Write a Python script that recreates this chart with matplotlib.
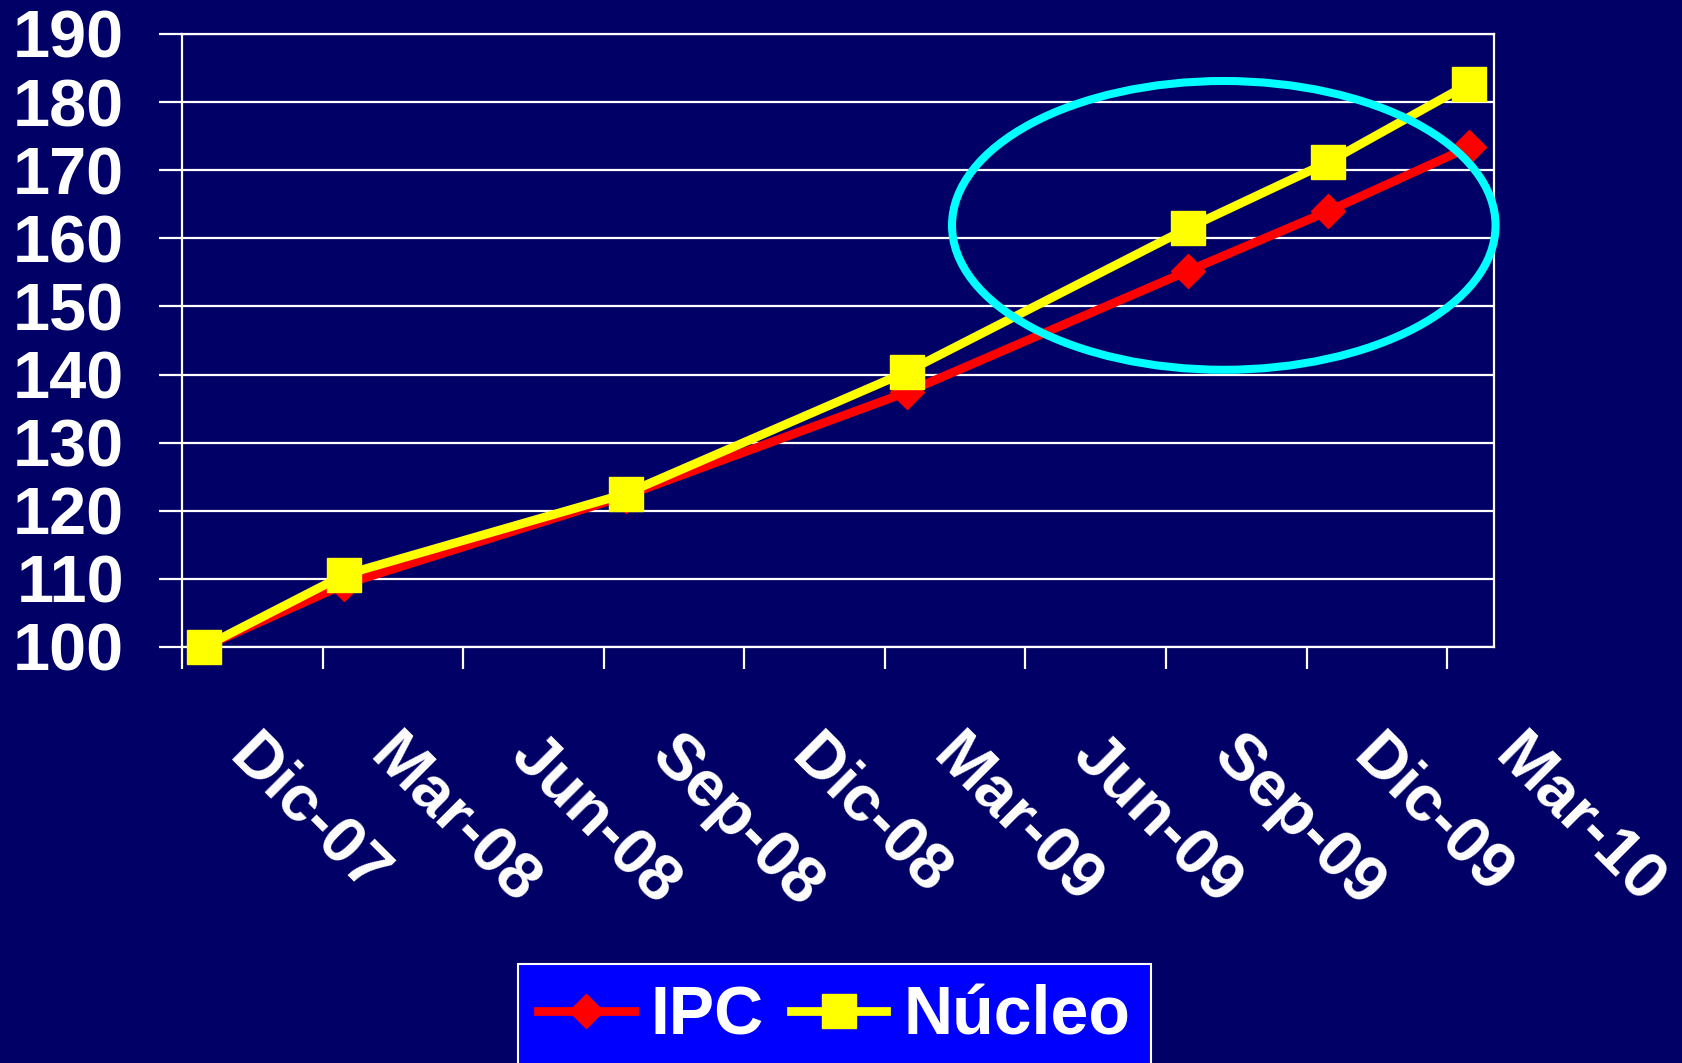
import matplotlib
matplotlib.use("Agg")
import matplotlib.pyplot as plt
import matplotlib.transforms as mtransforms
from matplotlib.patches import Ellipse
import pandas as pd

# ---- data ----
obs_dates = ["2007-12-15", "2008-03-15", "2008-09-15", "2009-03-15",
             "2009-09-15", "2009-12-15", "2010-03-15"]
ipc = [100.0, 109.2, 122.2, 137.4, 155.2, 164.0, 173.4]
nucleo = [100.0, 110.6, 122.5, 140.4, 161.5, 171.2, 182.7]
tick_labels = ["Dic-07", "Mar-08", "Jun-08", "Sep-08", "Dic-08",
               "Mar-09", "Jun-09", "Sep-09", "Dic-09", "Mar-10"]
tick_dates = pd.date_range("2007-12-01", periods=len(tick_labels), freq="3MS")
x_end_date = "2010-04-01"
y_ticks = list(range(100, 191, 10))
series_names = ["IPC", "Núcleo"]

# highlight ellipse (annotation) in data units
ell_center_date = "2009-10-08"
ell_center_y = 161.9
ell_width_months = 11.6
ell_height = 42.4

base = pd.Timestamp("2007-12-01")


def to_months(d):
    d = pd.Timestamp(d)
    return (d.year - base.year) * 12 + (d.month - base.month) + (d.day - 1) / 30.0


x_obs = [to_months(d) for d in obs_dates]
x_ticks = [to_months(d) for d in tick_dates]

BG = "#000066"
plt.rcParams["font.family"] = ["Liberation Sans", "DejaVu Sans"]
plt.rcParams["font.weight"] = "bold"

fig = plt.figure(figsize=(16.82, 10.63), dpi=100, facecolor=BG)
ax = fig.add_axes([182 / 1682, 416 / 1063, 1312 / 1682, 613 / 1063])
ax.set_facecolor(BG)

ax.set_xlim(0, to_months(x_end_date))
ax.set_ylim(100, 190)

ax.yaxis.grid(True, color="white", linewidth=1.6)
ax.set_axisbelow(True)

l1, = ax.plot(x_obs, ipc, color="#FF0000", linewidth=6.3, marker="D",
              markersize=17, markeredgecolor="#FF0000", label=series_names[0],
              clip_on=False, zorder=3)
l2, = ax.plot(x_obs, nucleo, color="#FFFF00", linewidth=6.3, marker="s",
              markersize=24, markeredgecolor="#FFFF00", label=series_names[1],
              clip_on=False, zorder=4)

ell = Ellipse((to_months(ell_center_date), ell_center_y), ell_width_months,
              ell_height, fill=False, edgecolor="#00FFFF", linewidth=5.8,
              clip_on=False, zorder=5)
ax.add_patch(ell)

for s in ax.spines.values():
    s.set_color("white")
    s.set_linewidth(1.6)

ax.set_yticks(y_ticks)
ax.set_yticklabels([str(v) for v in y_ticks])
ax.tick_params(axis="y", colors="white", length=16.6, width=1.6, pad=25,
               labelsize=48)
for lab in ax.get_yticklabels():
    lab.set_fontweight("bold")

ax.set_xticks(x_ticks)
ax.set_xticklabels(tick_labels)
ax.tick_params(axis="x", colors="white", length=15.8, width=1.6, pad=0,
               labelsize=47)
offset = mtransforms.ScaledTranslation(78 / 100, -56 / 100, fig.dpi_scale_trans)
for lab in ax.get_xticklabels():
    lab.set_rotation(-45)
    lab.set_ha("left")
    lab.set_va("top")
    lab.set_rotation_mode("anchor")
    lab.set_fontweight("bold")
    lab.set_transform(lab.get_transform() + offset)

leg = fig.legend(handles=[l1, l2], loc="upper left",
                 bbox_to_anchor=(518 / 1682, 1 - 964 / 1063), ncol=2,
                 frameon=True, fancybox=False, fontsize=49,
                 handlelength=1.4, handletextpad=0.25, columnspacing=0.4,
                 borderpad=0.3, borderaxespad=0)
frame = leg.get_frame()
frame.set_facecolor("#0000FF")
frame.set_edgecolor("white")
frame.set_linewidth(1.5)
frame.set_alpha(1)
for t in leg.get_texts():
    t.set_color("white")
    t.set_fontweight("bold")

fig.savefig("out.png", dpi=100, facecolor=BG)
